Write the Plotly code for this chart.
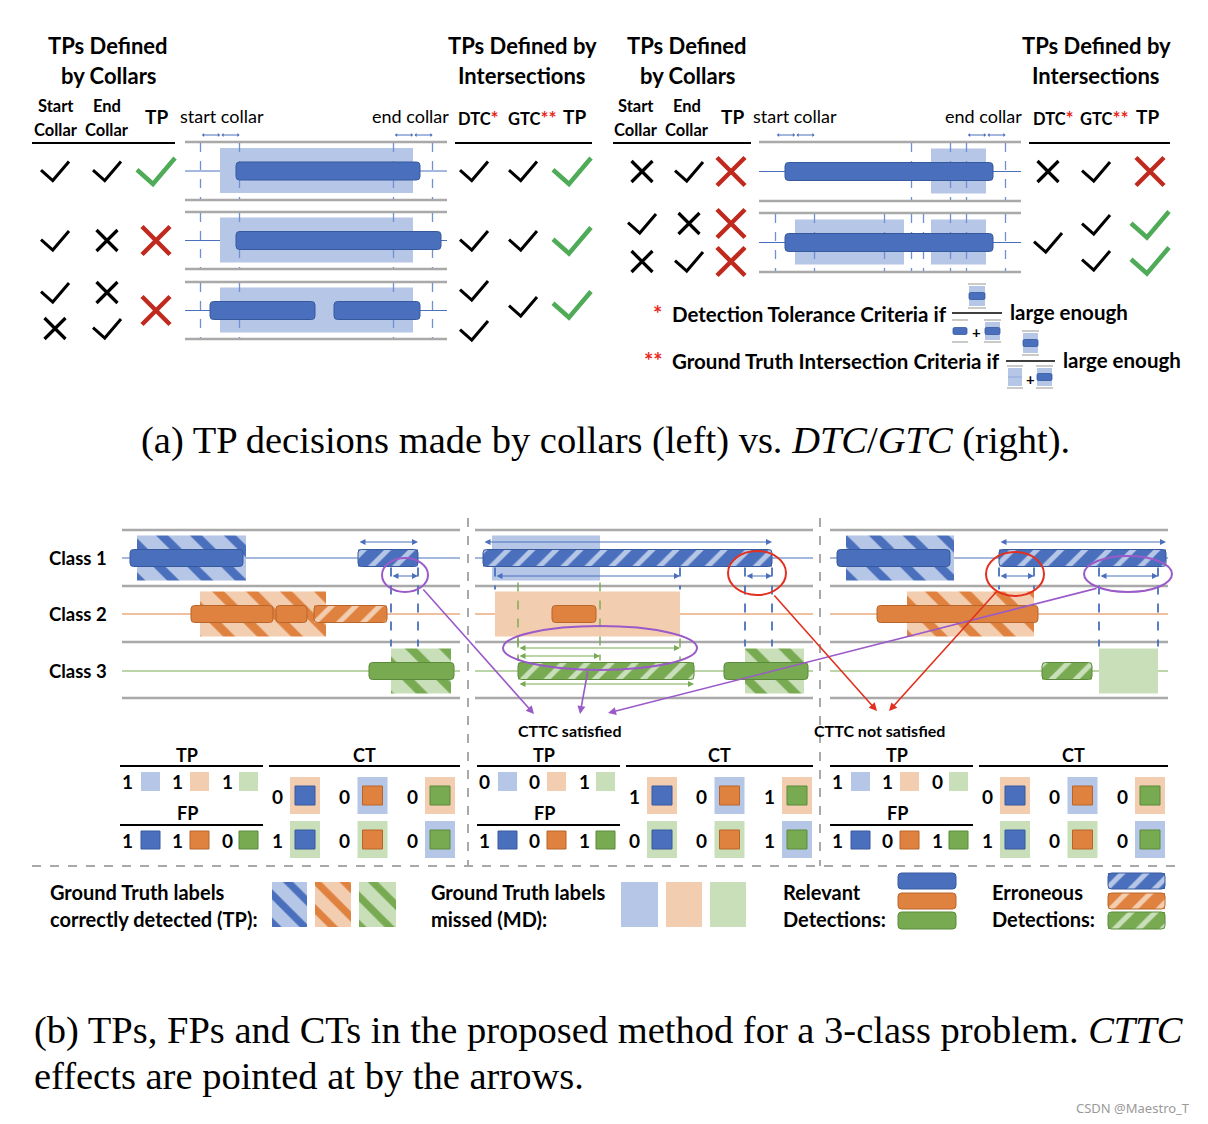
import plotly.graph_objects as go

W, H = 1208, 1124
FONT = "Lato"
SERIF = "Liberation Serif"

# ---------------- colours ----------------
BLUE, BLUE_L, BLUE_D = "#4a70bd", "#b6c6e6", "#36599e"
ORANGE, ORANGE_L, ORANGE_D = "#e0823f", "#f3cdb0", "#b8652b"
GREEN, GREEN_L, GREEN_D = "#78aa52", "#c9dfb9", "#5a8a3a"
CLS = [(BLUE, BLUE_L, BLUE_D), (ORANGE, ORANGE_L, ORANGE_D), (GREEN, GREEN_L, GREEN_D)]
GREY = "#a9a9a9"
PURPLE = "#9a5ac8"
RED = "#e2301f"
CHECK_GREEN = "#4fab58"
CROSS_RED = "#c0291d"

# ---------------- data: panel (a) decisions ----------------
A_L_COLLAR_START = [["Y"], ["Y"], ["Y", "N"]]
A_L_COLLAR_END = [["Y"], ["N"], ["N", "Y"]]
A_L_COLLAR_TP = [["Y"], ["N"], ["N"]]
A_L_DTC = [["Y"], ["Y"], ["Y", "Y"]]
A_L_GTC = [["Y"], ["Y"], ["Y"]]
A_L_INT_TP = [["Y"], ["Y"], ["Y"]]

A_R_COLLAR_START = [["N"], ["Y", "N"]]
A_R_COLLAR_END = [["Y"], ["N", "Y"]]
A_R_COLLAR_TP = [["N"], ["N", "N"]]
A_R_DTC = [["N"], ["Y"]]
A_R_GTC = [["Y"], ["Y", "Y"]]
A_R_INT_TP = [["N"], ["Y", "Y"]]

# ---------------- data: panel (a) timelines (time in px units) ----------------
A_L_GT = [[(220, 413)], [(220, 413)], [(220, 413)]]
A_L_DET = [[(236, 420)], [(236, 441)], [(210, 315), (334, 420)]]
A_R_GT = [[(931, 986)], [(795, 904), (931, 986)]]
A_R_DET = [[(785, 993)], [(785, 993)]]
COLLAR = 19.5

# ---------------- data: panel (b) timelines, per column, per class ----------------
B_GT_TP = [
    [[(137, 246)], [(200, 326)], [(391, 451)]],
    [[], [], [(745, 804)]],
    [[(846, 954)], [(907, 1034)], []],
]
B_GT_MD = [
    [[], [], []],
    [[(492, 600)], [(495, 680)], []],
    [[], [], [(1099, 1158)]],
]
B_DET_OK = [
    [[(130, 243)], [(191, 273), (276, 307)], [(369, 454)]],
    [[], [(552, 596)], [(724, 808)]],
    [[(837, 950)], [(877, 1038)], []],
]
B_DET_ERR = [
    [[(358, 418)], [(314, 387)], []],
    [[(483, 772)], [], [(518, 694)]],
    [[(999, 1166)], [], [(1042, 1092)]],
]
B_TP = [[1, 1, 1], [0, 0, 1], [1, 1, 0]]
B_FP = [[1, 1, 0], [1, 0, 1], [1, 0, 1]]
B_CT = [[[0, 0, 0], [1, 0, 0]], [[1, 0, 1], [0, 0, 1]], [[0, 0, 0], [1, 0, 0]]]
CT_OUTER = [[1, 0, 1], [2, 2, 0]]  # ground-truth class shading of CT cells
CLASS_NAMES = ["Class 1", "Class 2", "Class 3"]

# ---------------- helpers ----------------
below, above, anns, traces = [], [], [], []


def seg(x0, y0, x1, y1, color, width, dash="solid", layer="above"):
    (below if layer == "below" else above).append(dict(
        type="line", x0=x0, y0=y0, x1=x1, y1=y1, xref="x", yref="y",
        line=dict(color=color, width=width, dash=dash)))


def box(x0, y0, x1, y1, fill, lc=None, lw=0, layer="above"):
    (below if layer == "below" else above).append(dict(
        type="rect", x0=x0, y0=y0, x1=x1, y1=y1, xref="x", yref="y",
        fillcolor=fill, line=dict(color=lc or "rgba(0,0,0,0)", width=lw)))


def rbox(x0, y0, x1, y1, fill, lc, lw=1, r=3.5):
    p = (f"M{x0+r},{y0} L{x1-r},{y0} Q{x1},{y0} {x1},{y0+r} L{x1},{y1-r} Q{x1},{y1} {x1-r},{y1} "
         f"L{x0+r},{y1} Q{x0},{y1} {x0},{y1-r} L{x0},{y0+r} Q{x0},{y0} {x0+r},{y0} Z")
    above.append(dict(type="path", path=p, xref="x", yref="y",
                      fillcolor=fill or "rgba(0,0,0,0)", line=dict(color=lc, width=lw)))


def txt(x, y, s, size, color="#000", xanchor="center", family=FONT):
    anns.append(dict(x=x, y=y, xref="x", yref="y", text=s, showarrow=False,
                     xanchor=xanchor, yanchor="middle",
                     font=dict(family=family, size=size, color=color)))


def arr(x0, y0, x1, y1, color, width=1.2, both=True, head=2, size=1.0):
    anns.append(dict(x=x1, y=y1, ax=x0, ay=y0, xref="x", yref="y", axref="x", ayref="y",
                     text="", showarrow=True, arrowhead=head, startarrowhead=head,
                     arrowside="end+start" if both else "end", arrowsize=size,
                     startarrowsize=size, arrowwidth=width, arrowcolor=color,
                     standoff=0, startstandoff=0))


def hatch(x0, x1, yc, h, fg, bg, shape, size, sol):
    traces.append(go.Bar(
        orientation="h", base=[x0], x=[x1 - x0], y=[yc], width=[h],
        marker=dict(color=bg, opacity=1, line=dict(width=0),
                    pattern=dict(shape=shape, fgcolor=fg, bgcolor=bg, size=size,
                                 solidity=sol, fillmode="replace")),
        hoverinfo="skip", showlegend=False))


def check(cx, cy, w, h, color, lw):
    x0 = cx - w / 2
    p = f"M{x0},{cy - 0.05*h} L{x0 + 0.42*w},{cy + h/2} L{x0 + w},{cy - h/2}"
    above.append(dict(type="path", path=p, xref="x", yref="y",
                      line=dict(color=color, width=lw)))


def cross(cx, cy, s, color, lw):
    seg(cx - s/2, cy - s/2, cx + s/2, cy + s/2, color, lw)
    seg(cx - s/2, cy + s/2, cx + s/2, cy - s/2, color, lw)


def mark(v, cx, cy, big=False):
    if big:
        if v == "Y":
            check(cx, cy, 38, 26, CHECK_GREEN, 4.5)
        else:
            cross(cx, cy, 28, CROSS_RED, 4.5)
    else:
        if v == "Y":
            check(cx, cy, 28, 19, "#000", 3)
        else:
            cross(cx, cy, 21, "#000", 3.2)


def column_marks(vals, x, centers, off, big=False):
    for vs, c in zip(vals, centers):
        if len(vs) == 1:
            mark(vs[0], x, c, big)
        else:
            mark(vs[0], x, c - off, big)
            mark(vs[1], x, c + off, big)


# ================= PANEL (a) =================
def timeline_a(bx0, bx1, rows, gts, dets):
    for (top, bot), gtl, detl in zip(rows, gts, dets):
        c = (top + bot) / 2
        seg(bx0, top, bx1, top, GREY, 2.5, layer="below")
        seg(bx0, bot, bx1, bot, GREY, 2.5, layer="below")
        seg(bx0, c, bx1, c, BLUE, 1, layer="below")
        for g0, g1 in gtl:
            box(g0, c - 23, g1, c + 22, BLUE_L, layer="below")
        for g0, g1 in gtl:
            for e in (g0, g1):
                for xx in (e - COLLAR, e + COLLAR):
                    seg(xx, top + 1, xx, bot - 1, "#6f90d2", 1.3, dash="dash")
        for d0, d1 in detl:
            rbox(d0, c - 9, d1, c + 9, BLUE, BLUE_D, 1)


A_L_ROWS = [(142, 200), (212, 269), (282, 339)]
A_R_ROWS = [(142, 201), (213, 272)]
timeline_a(185, 447, A_L_ROWS, A_L_GT, A_L_DET)
timeline_a(759, 1021, A_R_ROWS, A_R_GT, A_R_DET)

# collar arrows in header
for e in (A_L_GT[0][0][0], A_L_GT[0][0][1], A_R_GT[1][0][0], A_R_GT[1][1][1]):
    arr(e - COLLAR, 135, e, 135, BLUE, 1, head=1, size=0.7)
    arr(e, 135, e + COLLAR, 135, BLUE, 1, head=1, size=0.7)

L_C = [(a + b) / 2 for a, b in A_L_ROWS]
R_C = [(a + b) / 2 for a, b in A_R_ROWS]
column_marks(A_L_COLLAR_START, 55, L_C, 18)
column_marks(A_L_COLLAR_END, 107, L_C, 18)
column_marks(A_L_COLLAR_TP, 156, L_C, 18, big=True)
column_marks(A_L_DTC, 474, L_C, 20)
column_marks(A_L_GTC, 523, [c - 4 if i == 2 else c for i, c in enumerate(L_C)], 20)
column_marks(A_L_INT_TP, 572, [c - 6 if i == 2 else c for i, c in enumerate(L_C)], 20, big=True)
column_marks(A_R_COLLAR_START, 642, R_C, 19)
column_marks(A_R_COLLAR_END, 689, R_C, 19)
column_marks(A_R_COLLAR_TP, 731, R_C, 19, big=True)
column_marks(A_R_DTC, 1048, R_C, 18)
column_marks(A_R_GTC, 1096, R_C, 18)
column_marks(A_R_INT_TP, 1150, R_C, 18, big=True)

# header texts panel (a)
STAR = "<span style='color:#e8281c;font-size:19px'>*</span>"
for cx in (108, 687):
    txt(cx, 45, "<b>TPs Defined</b>", 22)
    txt(cx, 75, "<b>by Collars</b>", 22)
for cx in (522, 1096):
    txt(cx, 45, "<b>TPs Defined by</b>", 22)
    txt(cx, 75, "<b>Intersections</b>", 22)
for x1, x2, xt in ((56, 107, 156), (636, 687, 732)):
    txt(x1, 106, "<b>Start</b>", 16.5)
    txt(x2, 106, "<b>End</b>", 16.5)
    txt(x1, 130, "<b>Collar</b>", 16.5)
    txt(x2, 130, "<b>Collar</b>", 16.5)
    txt(xt, 116, "<b>TP</b>", 19)
txt(178, 116, "start collar", 18, xanchor="left")
txt(451, 116, "end collar", 18, xanchor="right")
txt(751, 116, "start collar", 18, xanchor="left")
txt(1024, 116, "end collar", 18, xanchor="right")
for xd, xg, xt in ((478, 532, 574), (1053, 1104, 1147)):
    txt(xd, 117, "<b>DTC" + STAR + "</b>", 16.5)
    txt(xg, 117, "<b>GTC" + STAR + STAR + "</b>", 16.5)
    txt(xt, 116, "<b>TP</b>", 19)
for x0, x1 in ((32, 175), (455, 592), (613, 751), (1029, 1170)):
    seg(x0, 143, x1, 143, "#000", 2)

# footnotes
txt(664, 313, "<b>*</b>", 22, color="#e8281c", xanchor="right")
txt(670, 314, "<b>Detection Tolerance Criteria if</b>", 20.5, xanchor="left")
txt(1008, 312, "<b>large enough</b>", 20.5, xanchor="left")
txt(665, 360, "<b>**</b>", 22, color="#e8281c", xanchor="right")
txt(670, 361, "<b>Ground Truth Intersection Criteria if</b>", 20.5, xanchor="left")
txt(1061, 360, "<b>large enough</b>", 20.5, xanchor="left")


def mini(x0, x1, yt, yb, gt, det):
    seg(x0 - 1, yt, x1 + 1, yt, "#bdbdbd", 1.6)
    seg(x0 - 1, yb, x1 + 1, yb, "#bdbdbd", 1.6)
    c = (yt + yb) / 2
    if gt:
        box(x0, yt + 2, x1, yb - 2, BLUE_L)
        seg(x0, c, x1, c, "#8eaadb", 1)
    if det:
        rbox(x0, c - 3.5, x1, c + 3.5, BLUE, BLUE_D, 0.8, r=1.5)


mini(969, 985, 284, 308, True, True)
seg(952, 313, 1002, 313, "#000", 1.6)
mini(953, 967, 320, 342, False, True)
txt(976, 332, "<b>+</b>", 15)
mini(985, 1000, 320, 342, True, True)
mini(1023, 1038, 331, 355, True, True)
seg(1006, 361, 1055, 361, "#000", 1.6)
mini(1008, 1022, 366, 388, True, False)
txt(1030, 379, "<b>+</b>", 15)
mini(1037, 1052, 366, 388, True, True)

txt(605, 440, "(a) TP decisions made by collars (left) vs. <i>DTC</i>/<i>GTC</i> (right).", 38.5, family=SERIF)

# ================= PANEL (b) =================
B_COLS = [(122, 460), (475, 813), (830, 1168)]
B_LINES = [530, 586, 642, 698]
B_CEN = [558, 614, 671]
GT_H = 45
DET_H = 17

for k, name in enumerate(CLASS_NAMES):
    txt(47, B_CEN[k], "<b>" + name + "</b>", 18.5, xanchor="left")

for ci, (cx0, cx1) in enumerate(B_COLS):
    for y in B_LINES:
        seg(cx0, y, cx1, y, GREY, 2.5, layer="below")
    for k in range(3):
        col, light, dark = CLS[k]
        c = B_CEN[k]
        seg(cx0, c, cx1, c, col, 1, layer="below")
        for g0, g1 in B_GT_MD[ci][k]:
            box(g0, c - GT_H/2, g1, c + GT_H/2, light, layer="below")
        for g0, g1 in B_GT_TP[ci][k]:
            hatch(g0, g1, c, GT_H, col, light, "\\", 24, 0.36)
        for d0, d1 in B_DET_ERR[ci][k]:
            hatch(d0, d1, c, DET_H, light, col, "/", 17, 0.3)

# overlap arrows and guides (computed from data)
for ci in range(3):
    for k in (0, 2):
        col, light, dark = CLS[k]
        c = B_CEN[k]
        for d0, d1 in B_DET_ERR[ci][k]:
            found = False
            order = [1, 2] if k == 0 else [1, 0]
            for j, g in enumerate(order):
                gts = B_GT_TP[ci][g] + B_GT_MD[ci][g]
                for g0, g1 in gts:
                    lo, hi = max(d0, g0), min(d1, g1)
                    if lo < hi:
                        found = True
                        gc = B_CEN[g]
                        if k == 0:
                            for xx in (lo, hi):
                                seg(xx, c + DET_H/2 + 1, xx, gc - GT_H/2 - 2, BLUE, 1.8, dash="dash")
                            arr(lo, c + 18, hi, c + 18, BLUE, 1.2, size=1)
                        else:
                            for xx in (lo, hi):
                                seg(xx, gc + GT_H/2 + 2, xx, c - DET_H/2 - 2, GREEN, 1.4, dash="dash")
                            arr(lo, c - 23 + 8 * j, hi, c - 23 + 8 * j, GREEN, 1.2, size=1)
            if found:
                ya = c - 16 if k == 0 else c + 13
                arr(d0, ya, d1, ya, col, 1.2, size=1)

for ci in range(3):
    for k in range(3):
        col, light, dark = CLS[k]
        c = B_CEN[k]
        for d0, d1 in B_DET_OK[ci][k]:
            rbox(d0, c - DET_H/2, d1, c + DET_H/2, col, dark, 1)
        for d0, d1 in B_DET_ERR[ci][k]:
            rbox(d0, c - DET_H/2, d1, c + DET_H/2, None, dark, 1)

# highlight ellipses
for cx, cy, rx, ry, colr in ((405, 575, 23, 17, PURPLE), (600, 648, 97, 22, PURPLE),
                             (757, 573, 29, 22, RED), (1015, 574, 29, 22, RED),
                             (1128, 574, 44, 18, PURPLE)):
    above.append(dict(type="circle", x0=cx - rx, x1=cx + rx, y0=cy - ry, y1=cy + ry,
                      xref="x", yref="y", line=dict(color=colr, width=2)))

# CTTC connectors
arr(422, 588, 534, 714, PURPLE, 1.6, both=False, size=1)
arr(588, 670, 580, 714, PURPLE, 1.6, both=False, size=1)
arr(1098, 588, 608, 713, PURPLE, 1.6, both=False, size=1)
arr(773, 594, 877, 711, RED, 1.6, both=False, size=1)
arr(998, 590, 889, 711, RED, 1.6, both=False, size=1)
txt(569, 730, "<b>CTTC satisfied</b>", 16)
txt(879, 730, "<b>CTTC not satisfied</b>", 16)

# separators
for xs in (468, 820):
    seg(xs, 518, xs, 866, GREY, 2, dash="dash")
seg(32, 866, 1180, 866, GREY, 2, dash="dash")

# count tables
for ci, tx0 in enumerate((120, 477, 830)):
    ct0 = tx0 + 149
    ct1 = B_COLS[ci][1]
    txt(tx0 + 67, 755, "<b>TP</b>", 18)
    seg(tx0, 766, tx0 + 143, 766, "#000", 2)
    txt(tx0 + 67, 813, "<b>FP</b>", 18)
    seg(tx0, 825, tx0 + 143, 825, "#000", 2)
    txt((ct0 + ct1) / 2, 755, "<b>CT</b>", 18)
    seg(ct0, 766, ct1, 766, "#000", 2)
    for k in range(3):
        col, light, dark = CLS[k]
        nx = tx0 + 7 + 50 * k
        sx = tx0 + 21 + 49 * k
        txt(nx, 781, f"<b>{B_TP[ci][k]}</b>", 19)
        box(sx, 772, sx + 19, 791, light)
        txt(nx, 840, f"<b>{B_FP[ci][k]}</b>", 19)
        box(sx, 831, sx + 19, 849, col, dark, 1)
        for r, (yc, oy0, oy1) in enumerate(((796, 777, 814), (840, 821, 858))):
            nx2 = ct0 + 8 + 67.5 * k
            sx2 = ct0 + 21 + 67.5 * k
            txt(nx2, yc, f"<b>{B_CT[ci][r][k]}</b>", 19)
            box(sx2, oy0, sx2 + 30, oy1, CLS[CT_OUTER[r][k]][1])
            box(sx2 + 5, yc - 10, sx2 + 25, yc + 9, col, dark, 1)

# legend
LEG = 20
txt(48, 892, "<b>Ground Truth labels</b>", LEG, xanchor="left")
txt(48, 919, "<b>correctly detected (TP):</b>", LEG, xanchor="left")
txt(429, 892, "<b>Ground Truth labels</b>", LEG, xanchor="left")
txt(429, 919, "<b>missed (MD):</b>", LEG, xanchor="left")
txt(781, 892, "<b>Relevant</b>", LEG, xanchor="left")
txt(781, 919, "<b>Detections:</b>", LEG, xanchor="left")
txt(990, 892, "<b>Erroneous</b>", LEG, xanchor="left")
txt(990, 919, "<b>Detections:</b>", LEG, xanchor="left")
for k, (x0, x1) in enumerate(((272, 307), (315, 351), (359, 396))):
    col, light, dark = CLS[k]
    hatch(x0, x1, 904.5, 45, col, light, "\\", 20, 0.36)
for k, (x0, x1) in enumerate(((621, 658), (666, 702), (710, 746))):
    box(x0, 882, x1, 927, CLS[k][1])
for k, (y0, y1) in enumerate(((873, 889), (893, 909), (912, 929))):
    col, light, dark = CLS[k]
    rbox(898, y0, 956, y1, col, dark, 1)
    hatch(1108, 1165, (y0 + y1) / 2, y1 - y0, light, col, "/", 17, 0.3)
    rbox(1108, y0, 1165, y1, None, dark, 1)

txt(32, 1030, "(b) TPs, FPs and CTs in the proposed method for a 3-class problem. <i>CTTC</i>",
    38.5, xanchor="left", family=SERIF)
txt(32, 1076, "effects are pointed at by the arrows.", 38.5, xanchor="left", family=SERIF)
txt(1192, 1108, "CSDN @Maestro_T", 13, color="#9a9a9a", xanchor="right", family="Noto Sans")

# ================= figure =================
fig = go.Figure(traces)
fig.update_layout(
    width=W, height=H, margin=dict(l=0, r=0, t=0, b=0),
    paper_bgcolor="white", plot_bgcolor="white",
    xaxis=dict(range=[0, W], visible=False, fixedrange=True),
    yaxis=dict(range=[H, 0], visible=False, fixedrange=True),
    barmode="overlay", showlegend=False,
    shapes=[dict(s, layer="below") for s in below] + [dict(s, layer="above") for s in above],
    annotations=anns,
)
fig.write_html("out.html", config={"displayModeBar": False},
               post_script="document.body.style.margin='0';")
